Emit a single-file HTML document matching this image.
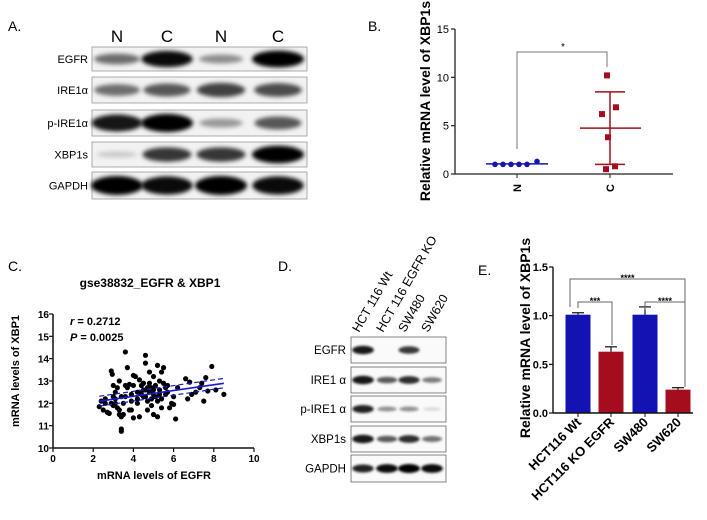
<!DOCTYPE html>
<html><head><meta charset="utf-8"><style>
html,body{margin:0;padding:0;background:#fff;}
svg{display:block;font-family:"Liberation Sans",Arial,sans-serif;}
</style></head><body>
<svg id="fig" width="707" height="520" viewBox="0 0 707 520">
<defs>
<filter id="blur" x="-30%" y="-60%" width="160%" height="220%"><feGaussianBlur stdDeviation="2.2"/></filter>
<filter id="blur2" x="-30%" y="-60%" width="160%" height="220%"><feGaussianBlur stdDeviation="1.3"/></filter>
</defs>
<g id="panelA">
<text x="8" y="31" font-size="14">A.</text>
</g>
<g id="panelB">
<text x="368" y="31" font-size="14">B.</text>
</g>
<g id="panelC">
<text x="8" y="271" font-size="14">C.</text>
<text x="150" y="287" font-size="12" font-weight="bold" text-anchor="middle">gse38832_EGFR &amp; XBP1</text>
</g>
<g id="panelD">
<text x="278" y="271" font-size="14">D.</text>
</g>
<g id="panelE">
<text x="478" y="275" font-size="14">E.</text>
</g>
</svg>
<script>
// ---------- data ----------
const blotALanes = ["N","C","N","C"];
const blotARows = ["EGFR","IRE1α","p-IRE1α","XBP1s","GAPDH"];
const blotAEGFR = [0.5,0.95,0.35,1];
const blotAIRE = [0.5,0.6,0.7,0.65];
const blotAPIRE = [0.9,1,0.3,0.6];
const blotAXBP = [0.08,0.75,0.75,1];
const blotAGAPDH = [1,0.95,1,0.95];

const bCategories = ["N","C"];
const bNValues = [1.0,1.0,1.0,1.0,1.0,1.3];
const bCValues = [10.2,6.2,6.9,3.8,0.5,0.8];
const bNMean = 1.05, bNSD = 0.1;
const bCMean = 4.75, bCSD = 3.75;
const bTicks = [0,5,10,15];

const cPoints = [[2.3,11.85],[2.5,11.7],[2.6,12.2],[2.7,11.6],[2.8,11.55],[2.9,13.45],[2.95,13.3],[3.0,12.8],[2.9,12.0],[3.0,11.9],[3.1,12.5],[3.1,12.2],[3.2,12.7],[3.3,13.0],[3.2,11.8],[3.3,11.7],[3.3,11.5],[3.4,11.4],[3.4,10.85],[3.4,10.75],[3.5,11.5],[3.4,12.3],[3.5,12.0],[3.6,14.3],[3.6,12.8],[3.7,13.6],[3.7,12.7],[3.8,12.85],[3.8,11.7],[3.9,11.7],[3.9,12.4],[4.0,13.25],[4.0,12.8],[4.0,11.35],[4.1,13.2],[4.2,12.0],[4.2,12.5],[4.3,13.05],[4.3,11.4],[4.4,12.4],[4.4,12.8],[4.5,12.6],[4.5,12.9],[4.6,14.15],[4.6,13.8],[4.6,12.3],[4.7,12.7],[4.7,12.1],[4.7,11.7],[4.8,13.4],[4.8,12.5],[4.8,12.9],[4.9,12.2],[4.9,11.9],[5.0,12.6],[5.0,13.2],[5.0,11.5],[5.1,12.8],[5.1,12.3],[5.2,13.7],[5.2,11.4],[5.2,12.1],[5.3,13.0],[5.3,12.6],[5.4,13.4],[5.4,12.2],[5.4,11.8],[5.5,13.6],[5.5,12.9],[5.6,12.7],[5.6,12.4],[5.7,12.8],[5.8,11.8],[5.9,12.0],[6.0,12.3],[6.0,11.95],[6.1,11.3],[6.2,12.7],[6.6,13.1],[6.7,12.2],[6.8,12.95],[6.9,12.4],[7.1,12.5],[7.3,12.7],[7.4,12.9],[7.5,12.1],[7.6,13.15],[7.7,12.55],[7.9,13.65],[8.1,12.6],[8.5,12.4],[4.5,12.3],[4.3,12.5],[5.0,12.4],[4.9,12.7],[3.6,12.3],[2.6,12.0],[3.1,12.0],[5.7,12.5],[4.2,12.2],[2.4,12.1],[3.0,12.3],[4.6,12.6],[5.3,12.4],[3.9,12.1]];
const cFitIntercept = 11.80, cFitSlope = 0.129;
const cXTicks = [0,2,4,6,8,10];
const cYTicks = [10,11,12,13,14,15,16];

const blotDLanes = ["HCT 116 Wt","HCT 116 EGFR KO","SW480","SW620"];
const blotDRows = ["EGFR","IRE1 α","p-IRE1 α","XBP1s","GAPDH"];
const blotDEGFR = [0.9,0,0.75,0];
const blotDIRE = [0.9,0.6,0.8,0.45];
const blotDPIRE = [0.85,0.35,0.35,0.05];
const blotDXBP = [0.9,0.6,0.8,0.5];
const blotDGAPDH = [0.85,0.95,1,0.95];

const eCategories = ["HCT116 Wt","HCT116 KO EGFR","SW480","SW620"];
const eValues = [1.01,0.63,1.01,0.24];
const eErrors = [0.02,0.05,0.08,0.02];
const eTicks = ["0.0","0.5","1.0","1.5"];

// ---------- helpers ----------
const NS="http://www.w3.org/2000/svg";
function mk(parent,tag,attrs,text){const e=document.createElementNS(NS,tag);for(const k in attrs)e.setAttribute(k,attrs[k]);if(text!==undefined)e.textContent=text;parent.appendChild(e);return e;}

// ---------- Panel A ----------
(function(){
 const g=document.getElementById('panelA');
 const laneX=[117,167,221,278];
 const rowsY=[[47,71],[77,103],[110,136],[142,167],[172,199]];
 const vals=[blotAEGFR,blotAIRE,blotAPIRE,blotAXBP,blotAGAPDH];
 blotALanes.forEach((l,i)=>{
  const t=mk(g,'text',{x:laneX[i],y:42,'font-size':17,'text-anchor':'middle'},l);
  
  
 });
 blotARows.forEach((r,ri)=>{
  const [y0,y1]=rowsY[ri];
  const bg=mk(g,'rect',{x:92,y:y0,width:215,height:y1-y0,fill:'#f2f2f2',stroke:'#999','stroke-width':0.8});
  
  
  const lbl=mk(g,'text',{x:88,y:(y0+y1)/2+4,'font-size':11,'text-anchor':'end'},r);
  
  
  vals[ri].forEach((v,li)=>{
   const h=(y1-y0)*(0.2+0.5*v);
   const b=mk(g,'ellipse',{cx:laneX[li],cy:(y0+y1)/2,rx:20+6*v,ry:h/2,fill:'#000','fill-opacity':0.1+0.9*v,filter:'url(#blur)'});
   
   
  });
 });
})();

// ---------- Panel B ----------
(function(){
 const g=document.getElementById('panelB');
 const X0=455,X1=673,Y0=174,Y1=29;
 const y=v=>Y0-(v/15)*(Y0-Y1);
 const cx={N:517,C:610};
 mk(g,'line',{x1:X0,y1:Y1,x2:X0,y2:Y0,stroke:'#222','stroke-width':1.3});
 mk(g,'line',{x1:X0,y1:Y0,x2:X1,y2:Y0,stroke:'#222','stroke-width':1.3});
 bTicks.forEach(t=>{
  mk(g,'line',{x1:X0-4,y1:y(t),x2:X0,y2:y(t),stroke:'#222','stroke-width':1.2});
  const tl=mk(g,'text',{x:X0-6,y:y(t)+4,'font-size':11,'text-anchor':'end'},t);
  
  
 });
 bCategories.forEach(c=>{
  mk(g,'line',{x1:cx[c],y1:Y0,x2:cx[c],y2:Y0+4,stroke:'#222'});
  const tl=mk(g,'text',{x:cx[c],y:Y0+14,'font-size':11,'font-weight':'bold','text-anchor':'middle',transform:`rotate(-90 ${cx[c]} ${Y0+14})`,dy:4},c);
  
  
 });
 const yl=mk(g,'text',{x:430,y:101,'font-size':14,'font-weight':'bold','text-anchor':'middle',transform:'rotate(-90 430 101)'},'Relative mRNA level of XBP1s');
 
 
 const nOff=[-22,-14,-6,2,10,20];
 mk(g,'line',{x1:cx.N-31,y1:y(bNMean),x2:cx.N+31,y2:y(bNMean),stroke:'#1515b0','stroke-width':1.5});
 bNValues.forEach((v,i)=>{
  const p=mk(g,'circle',{cx:cx.N+nOff[i],cy:y(v),r:2.8,fill:'#1515b0'});
  
  
 });
 const red='#a50d1e';
 mk(g,'line',{x1:cx.C,y1:y(bCMean+bCSD),x2:cx.C,y2:y(bCMean-bCSD),stroke:red,'stroke-width':1.5});
 mk(g,'line',{x1:cx.C-15,y1:y(bCMean+bCSD),x2:cx.C+15,y2:y(bCMean+bCSD),stroke:red,'stroke-width':1.5});
 mk(g,'line',{x1:cx.C-15,y1:y(bCMean-bCSD),x2:cx.C+15,y2:y(bCMean-bCSD),stroke:red,'stroke-width':1.5});
 mk(g,'line',{x1:cx.C-30,y1:y(bCMean),x2:cx.C+31,y2:y(bCMean),stroke:red,'stroke-width':1.5});
 const cOff=[-3,-8,6,-2,-4,5];
 bCValues.forEach((v,i)=>{
  const p=mk(g,'rect',{x:cx.C+cOff[i]-3,y:y(v)-3,width:6,height:6,fill:red});
  
  
 });
 const br=mk(g,'path',{d:`M${cx.N} 149 V52 H${cx.C-3} V67`,fill:'none',stroke:'#777','stroke-width':1});
 
 
 mk(g,'text',{x:563,y:50,'font-size':10,'text-anchor':'middle'},'*');
})();

// ---------- Panel C ----------
(function(){
 const g=document.getElementById('panelC');
 const X0=53,X1=254,Y0=448,Y1=314;
 const x=v=>X0+v/10*(X1-X0);
 const y=v=>Y0-(v-10)/6*(Y0-Y1);
 mk(g,'line',{x1:X0,y1:Y1,x2:X0,y2:Y0,stroke:'#111','stroke-width':1.5});
 mk(g,'line',{x1:X0,y1:Y0,x2:X1,y2:Y0,stroke:'#111','stroke-width':1.5});
 cXTicks.forEach(t=>{
  mk(g,'line',{x1:x(t),y1:Y0,x2:x(t),y2:Y0+4,stroke:'#111','stroke-width':1.2});
  const tl=mk(g,'text',{x:x(t),y:Y0+14,'font-size':10,'font-weight':'bold','text-anchor':'middle'},t);
  
  
 });
 cYTicks.forEach(t=>{
  mk(g,'line',{x1:X0-4,y1:y(t),x2:X0,y2:y(t),stroke:'#111','stroke-width':1.2});
  const tl=mk(g,'text',{x:X0-4,y:y(t)+4,'font-size':10,'font-weight':'bold','text-anchor':'end'},t);
  
  
 });
 const xl=mk(g,'text',{x:154,y:479,'font-size':11,'font-weight':'bold','text-anchor':'middle'},'mRNA levels of EGFR');
 
 
 const yl=mk(g,'text',{x:19,y:371,'font-size':11,'font-weight':'bold','text-anchor':'middle',transform:'rotate(-90 19 371)'},'mRNA levels of XBP1');
 
 
 cPoints.forEach(p=>{
  const c=mk(g,'circle',{cx:x(p[0]),cy:y(p[1]),r:2.6,fill:'#000'});
  
  
 });
 const xa=2.3,xb=8.5;
 const f=v=>cFitIntercept+cFitSlope*v;
 const fl=mk(g,'line',{x1:x(xa),y1:y(f(xa)),x2:x(xb),y2:y(f(xb)),stroke:'#1a1ad0','stroke-width':1.6});
 
 
 [[0.22,0.22],[-0.22,-0.2]].forEach(d=>{
  const l=mk(g,'line',{x1:x(xa),y1:y(f(xa)+d[0]),x2:x(xb),y2:y(f(xb)+d[1]),stroke:'#1a1ad0','stroke-width':1.2,'stroke-dasharray':'5,3'});
  
  
 });
 mk(g,'text',{x:70,y:325,'font-size':11,'font-weight':'bold'},'').innerHTML='<tspan font-style="italic">r</tspan> = 0.2712';
 mk(g,'text',{x:70,y:341,'font-size':11,'font-weight':'bold'},'').innerHTML='<tspan font-style="italic">P</tspan> = 0.0025';
})();

// ---------- Panel D ----------
(function(){
 const g=document.getElementById('panelD');
 const laneX=[363,387,409,432];
 const rowsY=[[337,363],[367,393],[396,422],[426,452],[455,482]];
 const vals=[blotDEGFR,blotDIRE,blotDPIRE,blotDXBP,blotDGAPDH];
 blotDLanes.forEach((l,i)=>{
  const t=mk(g,'text',{x:laneX[i]-4,y:333,'font-size':12.5,transform:`rotate(-60 ${laneX[i]-4} 333)`},l);
  
  
 });
 blotDRows.forEach((r,ri)=>{
  const [y0,y1]=rowsY[ri];
  const bg=mk(g,'rect',{x:351,y:y0,width:95,height:y1-y0,fill:'#fafafa',stroke:'#666','stroke-width':0.8});
  
  
  const lbl=mk(g,'text',{x:346,y:(y0+y1)/2+4,'font-size':11.5,'text-anchor':'end'},r);
  
  
  vals[ri].forEach((v,li)=>{
   if(v<=0)return;
   const b=mk(g,'ellipse',{cx:laneX[li],cy:(y0+y1)/2,rx:9+2*v,ry:1.5+3*v,fill:'#000','fill-opacity':0.1+0.9*v,filter:'url(#blur2)'});
   
   
  });
 });
})();

// ---------- Panel E ----------
(function(){
 const g=document.getElementById('panelE');
 const X0=553,X1=693,Y0=413,Y1=267;
 const y=v=>Y0-(v/1.5)*(Y0-Y1);
 const cx=[578,611,645,678],bw=25;
 const colors=['#1313b3','#a50d1e','#1313b3','#a50d1e'];
 eValues.forEach((v,i)=>{
  mk(g,'line',{x1:cx[i],y1:y(v),x2:cx[i],y2:y(v+eErrors[i]),stroke:'#111','stroke-width':1.2});
  mk(g,'line',{x1:cx[i]-6,y1:y(v+eErrors[i]),x2:cx[i]+6,y2:y(v+eErrors[i]),stroke:'#111','stroke-width':1.2});
  const b=mk(g,'rect',{x:cx[i]-bw/2,y:y(v),width:bw,height:Y0-y(v),fill:colors[i]});
  
  
 });
 mk(g,'line',{x1:X0,y1:Y1,x2:X0,y2:Y0,stroke:'#111','stroke-width':1.4});
 mk(g,'line',{x1:X0,y1:Y0,x2:X1,y2:Y0,stroke:'#111','stroke-width':1.4});
 eTicks.forEach(t=>{
  const v=parseFloat(t);
  mk(g,'line',{x1:X0-4,y1:y(v),x2:X0,y2:y(v),stroke:'#111','stroke-width':1.2});
  const tl=mk(g,'text',{x:X0-5,y:y(v)+4,'font-size':11,'font-weight':'bold','text-anchor':'end'},t);
  
  
 });
 eCategories.forEach((c,i)=>{
  mk(g,'line',{x1:cx[i],y1:Y0,x2:cx[i],y2:Y0+4,stroke:'#111'});
  const tl=mk(g,'text',{x:cx[i]+4,y:Y0+10,'font-size':13,'font-weight':'bold','text-anchor':'end',transform:`rotate(-45 ${cx[i]+4} ${Y0+10})`},c);
  
  
 });
 const yl=mk(g,'text',{x:530,y:338,'font-size':14,'font-weight':'bold','text-anchor':'middle',transform:'rotate(-90 530 338)'},'Relative mRNA level of XBP1s');
 
 
 const brs=[[570,685,279,307,387,'****'],[578,612,302,308,345,'***'],[645,685,302,310,385,'****']];
 brs.forEach(b=>{
  const p=mk(g,'path',{d:`M${b[0]} ${b[3]} V${b[2]} H${b[1]} V${b[4]}`,fill:'none',stroke:'#666','stroke-width':1});
  
  
  mk(g,'text',{x:(b[0]+b[1])/2,y:b[2]+2,'font-size':9,'font-weight':'bold','text-anchor':'middle'},b[5]);
 });
})();
</script>
</body></html>
